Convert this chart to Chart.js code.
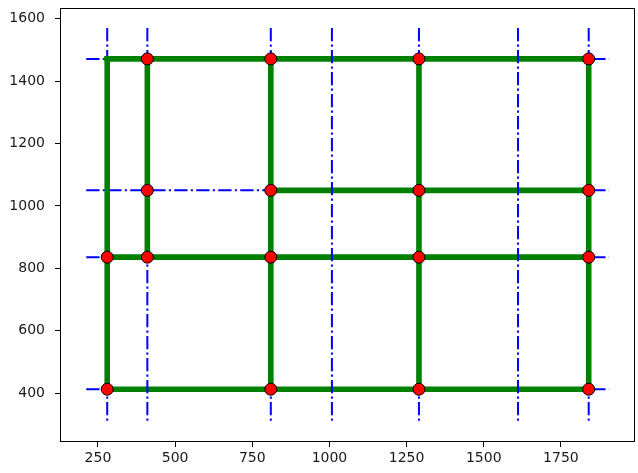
<!DOCTYPE html>
<html>
<head>
<meta charset="utf-8">
<script src="https://cdn.jsdelivr.net/npm/chart.js@4.4.1/dist/chart.umd.min.js"></script>
<style>
  html, body { margin: 0; padding: 0; background: #ffffff; }
  canvas { display: block; }
</style>
</head>
<body>
<canvas id="c" width="638" height="473"></canvas>
<script>
// ---- data ----
const xTicks = [250, 500, 750, 1000, 1250, 1500, 1750];
const yTicks = [400, 600, 800, 1000, 1200, 1400, 1600];
const xLimits = [127, 1990];
const yLimits = [244, 1634];

// blue dash-dot guide lines
const guideX = [280, 410, 810, 1008, 1290, 1611, 1840];
const guideXSpan = [1570, 309];          // vertical lines drawn top -> bottom
const guideY = [413, 836, 1050, 1471];
const guideYSpan = [212, 1906];          // horizontal lines drawn left -> right

// green horizontal segments: y, x start, x end
const greenRowY     = [1471, 1050, 836, 413];
const greenRowStart = [280, 810, 280, 280];
const greenRowEnd   = [1840, 1840, 1840, 1840];

// green vertical segments: x, y start, y end
const greenColX     = [280, 410, 810, 1290, 1840];
const greenColStart = [413, 836, 413, 413, 413];
const greenColEnd   = [1471, 1471, 1471, 1471, 1471];

// red nodes
const nodeX = [410, 810, 1290, 1840, 410, 810, 1290, 1840, 280, 410, 810, 1290, 1840, 280, 810, 1290, 1840];
const nodeY = [1471, 1471, 1471, 1471, 1050, 1050, 1050, 1050, 836, 836, 836, 836, 836, 413, 413, 413, 413];

// ---- datasets ----
const datasets = [];
const dashDot = [13.3, 3.3, 2.1, 3.3];

guideY.forEach(y => datasets.push({
  data: [{x: guideYSpan[0], y: y}, {x: guideYSpan[1], y: y}],
  showLine: true, borderColor: '#0000ff', borderWidth: 2, borderDash: dashDot,
  pointRadius: 0, order: 5
}));
greenRowY.forEach((y, i) => datasets.push({
  data: [{x: greenRowStart[i], y: y}, {x: greenRowEnd[i], y: y}],
  showLine: true, borderColor: '#008000', borderWidth: 5.6, borderCapStyle: 'square',
  pointRadius: 0, order: 4
}));
guideX.forEach(x => datasets.push({
  data: [{x: x, y: guideXSpan[0]}, {x: x, y: guideXSpan[1]}],
  showLine: true, borderColor: '#0000ff', borderWidth: 2, borderDash: dashDot,
  pointRadius: 0, order: 3
}));
greenColX.forEach((x, i) => datasets.push({
  data: [{x: x, y: greenColStart[i]}, {x: x, y: greenColEnd[i]}],
  showLine: true, borderColor: '#008000', borderWidth: 5.6, borderCapStyle: 'square',
  pointRadius: 0, order: 2
}));
datasets.push({
  data: nodeX.map((x, i) => ({x: x, y: nodeY[i]})),
  showLine: false, pointRadius: 6, pointBackgroundColor: '#ff0000',
  pointBorderColor: '#000000', pointBorderWidth: 1, order: 1
});

const framePlugin = {
  id: 'frame',
  afterDraw(chart) {
    const a = chart.chartArea, ctx = chart.ctx;
    ctx.save();
    ctx.strokeStyle = '#000000';
    ctx.lineWidth = 1;
    ctx.strokeRect(Math.round(a.left) + 0.5, Math.round(a.top) + 0.5,
                   Math.round(a.right - a.left) - 1, Math.round(a.bottom - a.top) - 1);
    ctx.restore();
  }
};

function zeroPad(s) { s.paddingTop = 0; s.paddingBottom = 0; s.paddingLeft = 0; s.paddingRight = 0; }

Chart.defaults.font.family = "'DejaVu Sans', sans-serif";
Chart.defaults.font.size = 14;
Chart.defaults.color = '#1a1a1a';

new Chart(document.getElementById('c'), {
  type: 'scatter',
  data: { datasets },
  plugins: [framePlugin],
  options: {
    responsive: false,
    animation: false,
    devicePixelRatio: 1,
    layout: { autoPadding: false, padding: { top: 8, right: 3, left: 0, bottom: 0 } },
    plugins: { legend: { display: false }, tooltip: { enabled: false } },
    scales: {
      x: {
        type: 'linear', min: xLimits[0], max: xLimits[1],
        afterBuildTicks: s => { s.ticks = xTicks.map(v => ({ value: v })); },
        afterFit: s => { s.height = 31; zeroPad(s); },
        ticks: { padding: 3, maxRotation: 0, autoSkip: false, callback: v => String(v) },
        grid: { drawOnChartArea: false, drawTicks: true, tickLength: 5, tickColor: '#000', lineWidth: 1 },
        border: { display: false }
      },
      y: {
        type: 'linear', min: yLimits[0], max: yLimits[1],
        afterBuildTicks: s => { s.ticks = yTicks.map(v => ({ value: v })); },
        afterFit: s => { s.width = 60; zeroPad(s); },
        ticks: { padding: 10, autoSkip: false, callback: v => String(v) },
        grid: { drawOnChartArea: false, drawTicks: true, tickLength: 5, tickColor: '#000', lineWidth: 1 },
        border: { display: false }
      }
    }
  }
});
</script>
</body>
</html>
